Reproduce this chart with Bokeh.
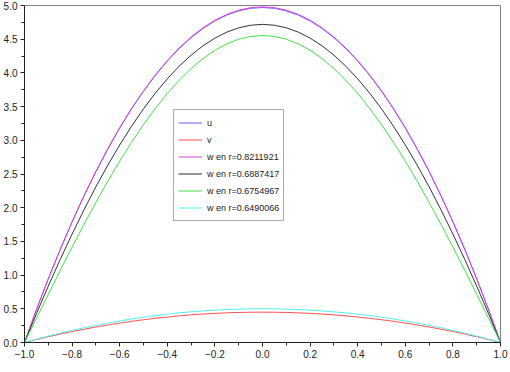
from bokeh.plotting import figure
from bokeh.models import Legend, LegendItem, CustomJSTickFormatter, FixedTicker, Range1d
from bokeh.embed import file_html
from bokeh.resources import INLINE

x = [-1.0, -0.95, -0.9, -0.85, -0.8, -0.75, -0.7, -0.65, -0.6, -0.55, -0.5,
     -0.45, -0.4, -0.35, -0.3, -0.25, -0.2, -0.15, -0.1, -0.05, 0.0,
     0.05, 0.1, 0.15, 0.2, 0.25, 0.3, 0.35, 0.4, 0.45, 0.5,
     0.55, 0.6, 0.65, 0.7, 0.75, 0.8, 0.85, 0.9, 0.95, 1.0]

u = [0.0, 0.485, 0.944, 1.379, 1.789, 2.174, 2.535, 2.870, 3.181, 3.467, 3.728,
     3.964, 4.175, 4.361, 4.523, 4.659, 4.771, 4.858, 4.920, 4.958, 4.970,
     4.958, 4.920, 4.858, 4.771, 4.659, 4.523, 4.361, 4.175, 3.964, 3.728,
     3.467, 3.181, 2.870, 2.535, 2.174, 1.789, 1.379, 0.944, 0.485, 0.0]
v = [0.0, 0.044, 0.086, 0.125, 0.162, 0.197, 0.230, 0.260, 0.288, 0.314, 0.338,
     0.359, 0.378, 0.395, 0.410, 0.422, 0.432, 0.440, 0.446, 0.449, 0.450,
     0.449, 0.446, 0.440, 0.432, 0.422, 0.410, 0.395, 0.378, 0.359, 0.338,
     0.314, 0.288, 0.260, 0.230, 0.197, 0.162, 0.125, 0.086, 0.044, 0.0]
w1 = [0.0, 0.486, 0.946, 1.382, 1.793, 2.179, 2.540, 2.876, 3.187, 3.474, 3.735,
      3.972, 4.183, 4.370, 4.532, 4.669, 4.781, 4.868, 4.930, 4.968, 4.980,
      4.968, 4.930, 4.868, 4.781, 4.669, 4.532, 4.370, 4.183, 3.972, 3.735,
      3.474, 3.187, 2.876, 2.540, 2.179, 1.793, 1.382, 0.946, 0.486, 0.0]
w2 = [0.0, 0.426, 0.837, 1.232, 1.609, 1.969, 2.310, 2.631, 2.931, 3.210, 3.467,
      3.701, 3.912, 4.100, 4.263, 4.402, 4.516, 4.605, 4.669, 4.707, 4.720,
      4.707, 4.669, 4.605, 4.516, 4.402, 4.263, 4.100, 3.912, 3.701, 3.467,
      3.210, 2.931, 2.631, 2.310, 1.969, 1.609, 1.232, 0.837, 0.426, 0.0]
w3 = [0.0, 0.358, 0.715, 1.069, 1.415, 1.753, 2.079, 2.393, 2.691, 2.971, 3.233,
      3.475, 3.695, 3.892, 4.065, 4.213, 4.335, 4.431, 4.500, 4.541, 4.555,
      4.541, 4.500, 4.431, 4.335, 4.213, 4.065, 3.892, 3.695, 3.475, 3.233,
      2.971, 2.691, 2.393, 2.079, 1.753, 1.415, 1.069, 0.715, 0.358, 0.0]
w4 = [0.0, 0.049, 0.095, 0.139, 0.180, 0.219, 0.255, 0.289, 0.320, 0.349, 0.375,
      0.399, 0.420, 0.439, 0.455, 0.469, 0.480, 0.489, 0.495, 0.499, 0.500,
      0.499, 0.495, 0.489, 0.480, 0.469, 0.455, 0.439, 0.420, 0.399, 0.375,
      0.349, 0.320, 0.289, 0.255, 0.219, 0.180, 0.139, 0.095, 0.049, 0.0]

labels = ["u", "v", "w en r=0.8211921", "w en r=0.6887417",
          "w en r=0.6754967", "w en r=0.6490066"]
colors = ["#6060ff", "#ff5050", "#e040e0", "#333333", "#40e040", "#50f0f0"]
series = [u, v, w1, w2, w3, w4]

xticks = [-1.0, -0.8, -0.6, -0.4, -0.2, 0.0, 0.2, 0.4, 0.6, 0.8, 1.0]
xminor = [-0.9, -0.7, -0.5, -0.3, -0.1, 0.1, 0.3, 0.5, 0.7, 0.9]
yticks = [0.0, 0.5, 1.0, 1.5, 2.0, 2.5, 3.0, 3.5, 4.0, 4.5, 5.0]
yminor = [0.25, 0.75, 1.25, 1.75, 2.25, 2.75, 3.25, 3.75, 4.25, 4.75]

p = figure(width=510, height=372, output_backend="svg", toolbar_location=None,
           x_range=Range1d(-1, 1), y_range=Range1d(0, 5),
           min_border_left=23, min_border_right=10, min_border_top=5,
           min_border_bottom=30)
p.background_fill_color = "white"
p.border_fill_color = "white"
p.outline_line_color = "#808080"
p.outline_line_width = 1
p.grid.visible = False

renderers = []
for s, c in zip(series, colors):
    r = p.line(x, s, line_color=c, line_width=1)
    renderers.append(r)

fmt = CustomJSTickFormatter(code="return (tick < -1e-9 ? '\u2212' : '') + Math.abs(tick).toFixed(1);")

for ax, ticks, minor in ((p.xaxis[0], xticks, xminor), (p.yaxis[0], yticks, yminor)):
    ax.ticker = FixedTicker(ticks=ticks, minor_ticks=minor)
    ax.formatter = fmt
    ax.axis_line_color = "#222222"
    ax.major_tick_line_color = "#222222"
    ax.minor_tick_line_color = "#222222"
    ax.major_tick_out = 4
    ax.major_tick_in = 0
    ax.minor_tick_out = 3
    ax.minor_tick_in = 0
    ax.major_label_text_font = "Liberation Sans"
    ax.major_label_text_font_size = "10px"
    ax.major_label_text_color = "#222222"
    ax.major_label_standoff = 3

items = [LegendItem(label=l, renderers=[r]) for l, r in zip(labels, renderers)]
legend = Legend(items=items, location=(149, 121), orientation="vertical",
                glyph_width=24, glyph_height=17, label_height=17, spacing=0,
                padding=4, margin=0, label_standoff=5,
                label_text_font="Liberation Sans", label_text_font_size="9px",
                label_text_color="#222222",
                border_line_color="#555555", border_line_width=1,
                background_fill_color="white", background_fill_alpha=1.0)
p.add_layout(legend, "center")

open("out.html", "w").write(file_html(p, INLINE))
